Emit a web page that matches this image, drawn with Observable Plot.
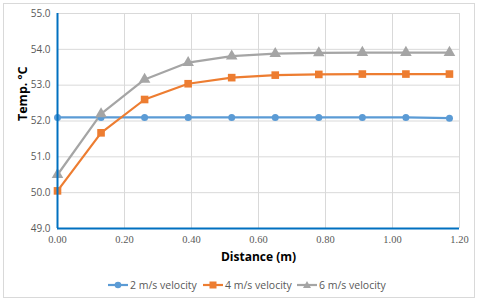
<!DOCTYPE html>
<html><head><meta charset="utf-8">
<script src="https://cdn.jsdelivr.net/npm/d3@7"></script>
<script src="https://cdn.jsdelivr.net/npm/@observablehq/plot@0.6"></script>
<style>
body{margin:0;background:#fff;font-family:"Open Sans",sans-serif;}
#frame{position:absolute;left:3px;top:3px;width:472px;height:295px;border:1px solid #d9d9d9;box-sizing:border-box;}
#chart{position:absolute;left:0;top:0;}
#legend{position:absolute;left:0;top:276px;width:480px;height:18px;font-family:"Open Sans",sans-serif;font-size:10.5px;color:#595959;}
.item{position:absolute;top:0;display:flex;align-items:center;height:18px;}
.item svg{margin-right:2px;}
.xt text{font-family:"Liberation Serif",serif;}
</style></head><body>
<div id="frame"></div>
<div id="chart"></div>
<div id="legend"></div>
<script>
const distance = [0, 0.13, 0.26, 0.39, 0.52, 0.65, 0.78, 0.91, 1.04, 1.17];
const v2 = [52.10, 52.10, 52.10, 52.10, 52.10, 52.10, 52.10, 52.10, 52.10, 52.08];
const v4 = [50.05, 51.67, 52.60, 53.04, 53.21, 53.28, 53.30, 53.31, 53.31, 53.31];
const v6 = [50.50, 52.20, 53.16, 53.63, 53.81, 53.88, 53.90, 53.91, 53.91, 53.91];
const seriesNames = ["2 m/s velocity", "4 m/s velocity", "6 m/s velocity"];
const seriesColors = ["#5B9BD5", "#ED7D31", "#A5A5A5"];
const seriesSymbols = ["circle", "square", "triangle"];
const xTicks = [0, 0.2, 0.4, 0.6, 0.8, 1.0, 1.2];
const yTicks = [49, 50, 51, 52, 53, 54, 55];

const values = [v2, v4, v6];
const data = [];
values.forEach((arr, s) => arr.forEach((t, i) => data.push({series: seriesNames[s], x: distance[i], y: t, s})));

const plot = Plot.plot({
  width: 480, height: 270,
  marginLeft: 57, marginRight: 21, marginTop: 13, marginBottom: 42,
  x: {domain: [0, 1.2], ticks: xTicks, tickFormat: d => d.toFixed(2), tickSize: 0, tickPadding: 8, label: null},
  y: {domain: [49, 55], ticks: yTicks, tickFormat: d => d.toFixed(1), tickSize: 0, tickPadding: 8, label: null},
  style: {fontFamily: "Open Sans, sans-serif", fontSize: "10px", color: "#595959", background: "transparent"},
  marks: [
    Plot.ruleY(yTicks, {stroke: "#d9d9d9", strokeWidth: 1}),
    Plot.ruleX(xTicks, {stroke: "#d9d9d9", strokeWidth: 1}),
    Plot.axisX({ticks: xTicks, tickFormat: d => d.toFixed(2), tickSize: 0, tickPadding: 7, fontSize: 10.5, fill: "#595959", label: null, className: "xt"}),
    Plot.axisY({ticks: yTicks, tickFormat: d => d.toFixed(1), tickSize: 0, tickPadding: 7, fontSize: 10, fill: "#595959", label: null}),
    ...seriesNames.map((n, s) => Plot.line(data.filter(d => d.s === s), {x: "x", y: "y", stroke: seriesColors[s], strokeWidth: 2.2})),
    ...seriesNames.map((n, s) => Plot.dot(data.filter(d => d.s === s), {x: "x", y: "y", fill: seriesColors[s], symbol: seriesSymbols[s], r: s === 0 ? 3.5 : 4.3})),
    Plot.ruleX([0], {stroke: "#0070C0", strokeWidth: 2}),
    Plot.ruleY([49], {stroke: "#0070C0", strokeWidth: 2}),
    Plot.text(["Distance (m)"], {frameAnchor: "bottom", dy: 32, fontWeight: "bold", fontSize: 12, fill: "#000"}),
    Plot.text(["Temp. ºC"], {frameAnchor: "left", dx: -35, rotate: -90, fontWeight: "bold", fontSize: 12.5, fill: "#000"})
  ]
});
document.getElementById("chart").appendChild(plot);

const legend = document.getElementById("legend");
const lefts = [108, 203, 297];
seriesNames.forEach((n, s) => {
  const div = document.createElement("div");
  div.className = "item";
  div.style.left = lefts[s] + "px";
  let marker;
  if (s === 0) marker = `<circle cx="10" cy="9" r="3.3" fill="${seriesColors[s]}"/>`;
  else if (s === 1) marker = `<rect x="6.5" y="5.5" width="7" height="7" fill="${seriesColors[s]}"/>`;
  else marker = `<path d="M10,5 L14,12 L6,12 Z" fill="${seriesColors[s]}"/>`;
  div.innerHTML = `<svg width="20" height="18"><line x1="0" x2="20" y1="9" y2="9" stroke="${seriesColors[s]}" stroke-width="2.2"/>${marker}</svg><span>${n}</span>`;
  legend.appendChild(div);
});
</script>
</body></html>
